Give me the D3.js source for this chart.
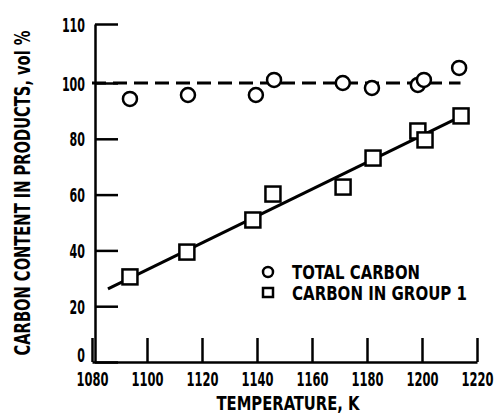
<!DOCTYPE html>
<html>
<head>
<meta charset="utf-8">
<script src="https://d3js.org/d3.v7.min.js"></script>
<style>
  body { margin: 0; background: #fff; }
  text { font-family: "Liberation Sans Narrow", "DejaVu Sans Condensed", sans-serif; font-weight: bold; fill: #000; }
</style>
</head>
<body>
<script>
// values
var totalTemp   = [1093.8, 1114.9, 1139.6, 1146.2, 1171.2, 1181.8, 1198.5, 1200.7, 1213.5];
var totalCarbon = [94.3, 95.7, 95.7, 101.1, 100.0, 98.2, 99.3, 101.1, 105.4];
var groupTemp   = [1093.8, 1114.5, 1138.5, 1145.8, 1171.3, 1182.2, 1198.5, 1201.1, 1214.2];
var groupCarbon = [30.5, 39.4, 50.9, 60.2, 62.7, 73.1, 82.8, 79.6, 88.2];
var fitTemp     = [1085.8, 1213.1];
var fitCarbon   = [26.2, 87.5];
var refTemp     = [1080, 1214];
var refCarbon   = [100, 100];
var xTicks = [1080, 1100, 1120, 1140, 1160, 1180, 1200, 1220];
var yTicks = [0, 20, 40, 60, 80, 100, 110];
var legendLabels = ["TOTAL CARBON", "CARBON IN GROUP 1"];

var width = 499, height = 415;

var svg = d3.select("body").append("svg")
  .attr("width", width)
  .attr("height", height);

var x = d3.scaleLinear().domain([1080, 1220]).range([92, 477]);
// data scale is uniform
var y = d3.scaleLinear().domain([0, 100]).range([362, 83]);
// the axis in the original puts its 110 tick higher than the uniform spacing
var yAxisScale = d3.scaleLinear().domain([0, 100, 110]).range([362, 83, 24]);

// axes, ticks pointing inward
var xAxis = svg.append("g")
  .attr("transform", "translate(0," + y(0) + ")")
  .call(d3.axisBottom(x).tickValues(xTicks).tickSizeInner(-24).tickSizeOuter(0).tickPadding(10).tickFormat(d3.format("d")));
xAxis.selectAll("text")
  .attr("font-size", 20)
  .attr("dy", "0.71em")
  .attr("textLength", 32)
  .attr("lengthAdjust", "spacingAndGlyphs");

var yAxis = svg.append("g")
  .attr("transform", "translate(95,0)")
  .call(d3.axisLeft(yAxisScale).tickValues(yTicks).tickSizeInner(-23).tickSizeOuter(0).tickPadding(10));
yAxis.selectAll("text")
  .attr("font-size", 20)
  .attr("textLength", function(d) { return String(d).length * 7.7; })
  .attr("lengthAdjust", "spacingAndGlyphs")
  .attr("dy", function(d) { return d === 0 ? "-0.05em" : "0.35em"; });

svg.selectAll(".domain, .tick line")
  .style("stroke", "#000")
  .style("stroke-width", "2.5px");

// dashed 100% reference line
var line = d3.line()
  .x(function(d) { return x(d[0]); })
  .y(function(d) { return y(d[1]); });

svg.append("path")
  .datum(d3.zip(refTemp, refCarbon))
  .attr("d", line)
  .attr("fill", "none")
  .attr("stroke", "#000")
  .attr("stroke-width", 3)
  .attr("stroke-dasharray", "14,7");

// fitted line for group 1
svg.append("path")
  .datum(d3.zip(fitTemp, fitCarbon))
  .attr("d", line)
  .attr("fill", "none")
  .attr("stroke", "#000")
  .attr("stroke-width", 3);

// total carbon: circles
svg.selectAll("circle.total")
  .data(d3.zip(totalTemp, totalCarbon))
  .enter().append("circle")
  .attr("class", "total")
  .attr("cx", function(d) { return x(d[0]); })
  .attr("cy", function(d) { return y(d[1]); })
  .attr("r", 7)
  .attr("fill", "#fff")
  .attr("stroke", "#000")
  .attr("stroke-width", 2.5);

// carbon in group 1: squares
var sq = 15;
svg.selectAll("rect.group")
  .data(d3.zip(groupTemp, groupCarbon))
  .enter().append("rect")
  .attr("class", "group")
  .attr("x", function(d) { return x(d[0]) - sq / 2; })
  .attr("y", function(d) { return y(d[1]) - sq / 2; })
  .attr("width", sq)
  .attr("height", sq)
  .attr("fill", "#fff")
  .attr("stroke", "#000")
  .attr("stroke-width", 2.5);

// legend
var legend = svg.append("g").attr("transform", "translate(268,272)");
legend.append("circle")
  .attr("cx", 0).attr("cy", 0).attr("r", 5)
  .attr("fill", "none").attr("stroke", "#000").attr("stroke-width", 2.5);
legend.append("rect")
  .attr("x", -5).attr("y", 16).attr("width", 10).attr("height", 9)
  .attr("fill", "none").attr("stroke", "#000").attr("stroke-width", 2.5);
legend.selectAll("text")
  .data(legendLabels)
  .enter().append("text")
  .attr("x", 24)
  .attr("y", function(d, i) { return i * 21 + 7; })
  .attr("font-size", 19)
  .attr("textLength", function(d, i) { return i === 0 ? 128 : 175; })
  .attr("lengthAdjust", "spacingAndGlyphs")
  .text(function(d) { return d; });

// axis titles
svg.append("text")
  .attr("x", 288)
  .attr("y", 410)
  .attr("text-anchor", "middle")
  .attr("font-size", 20)
  .attr("textLength", 143)
  .attr("lengthAdjust", "spacingAndGlyphs")
  .text("TEMPERATURE, K");

svg.append("text")
  .attr("transform", "translate(30,193) rotate(-90)")
  .attr("text-anchor", "middle")
  .attr("font-size", 21)
  .attr("textLength", 325)
  .attr("lengthAdjust", "spacingAndGlyphs")
  .text("CARBON CONTENT IN PRODUCTS, vol %");
</script>
</body>
</html>
